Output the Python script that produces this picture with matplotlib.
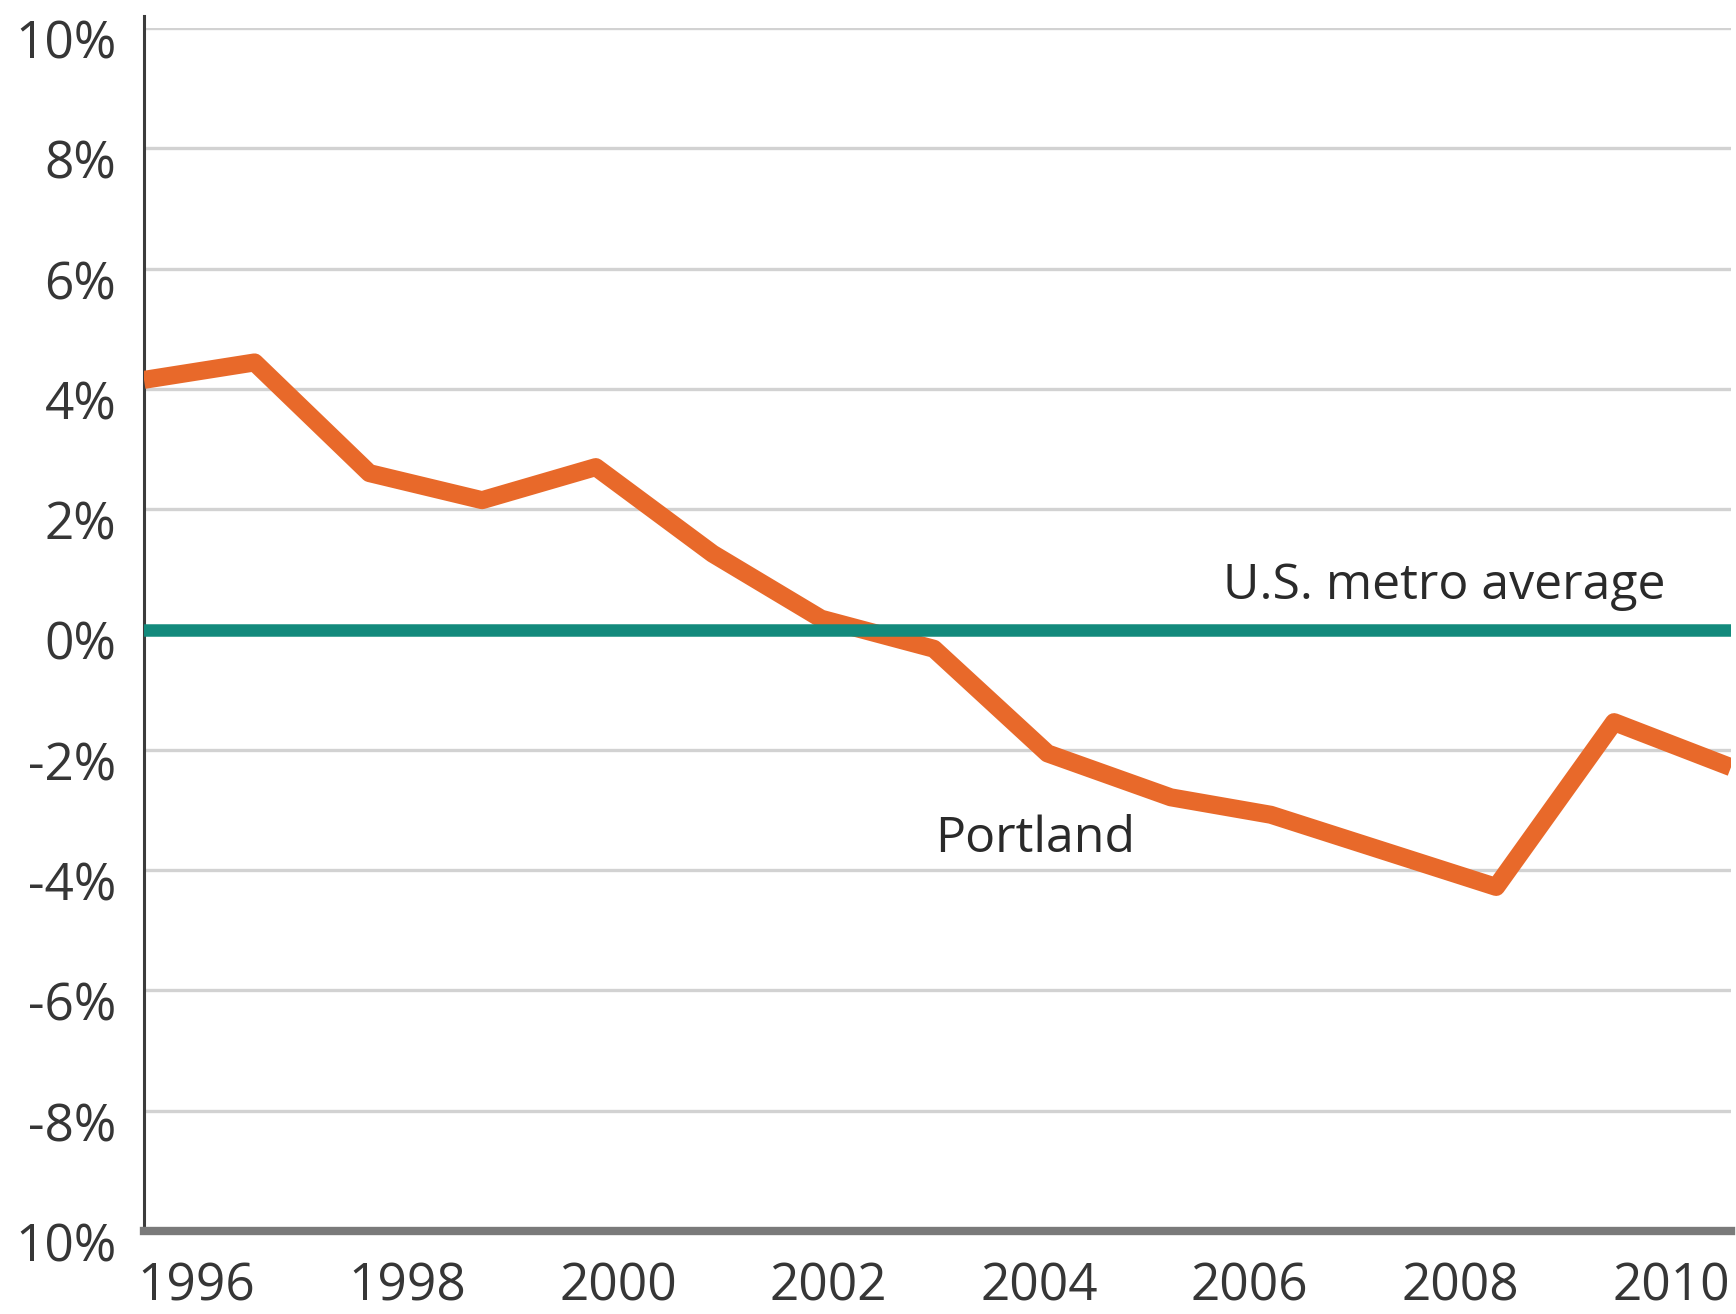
import matplotlib
matplotlib.use('Agg')

import numpy as np
import matplotlib.pyplot as plt
from matplotlib.transforms import ScaledTranslation

plt.rcParams['font.family'] = ['Open Sans', 'DejaVu Sans']

# Portland relative to the US metro average (x in years)
years = [1995.5, 1996.55, 1997.64, 1998.71, 1999.79, 2000.9, 2001.93,
         2003.0, 2004.08, 2005.25, 2006.2, 2008.34, 2009.46, 2010.57]
portland = [4.15, 4.44, 2.60, 2.15, 2.70, 1.26, 0.18,
            -0.32, -2.06, -2.79, -3.08, -4.28, -1.54, -2.29]
metro_avg = 0.0

ytick_vals = [10, 8, 6, 4, 2, 0, -2, -4, -6, -8, -10]
ytick_labels = ['10%', '8%', '6%', '4%', '2%', '0%', '-2%', '-4%', '-6%', '-8%', '10%']
xtick_vals = [1996, 1998, 2000, 2002, 2004, 2006, 2008, 2010]
xtick_labels = [str(y) for y in xtick_vals]

fig = plt.figure(figsize=(17.36, 13.14), dpi=100)
ax = fig.add_axes([144 / 1736, 1 - 1231 / 1314, (1731 - 144) / 1736, (1231 - 28) / 1314])

ax.set_xlim(1995.5, 2010.57)
ax.set_ylim(-10, 10)

# grid
for v in ytick_vals[:-1]:
    ax.axhline(v, color='#d2d2d2', lw=2.4, zorder=1)

ax.plot(years, portland, color='#e8692a', lw=13, solid_joinstyle='round',
        solid_capstyle='butt', zorder=3)
ax.axhline(metro_avg, color='#138a7c', lw=9, zorder=4)

ax.text(2007.85, 0.5, 'U.S. metro average', fontsize=36, color='#2a2a2a',
        ha='center', va='baseline')
ax.text(2003.96, -3.7, 'Portland', fontsize=36, color='#2a2a2a',
        ha='center', va='baseline')

for s in ['top', 'right']:
    ax.spines[s].set_visible(False)
ax.spines['left'].set_color('#3c3c3c')
ax.spines['left'].set_linewidth(2.2)
ax.spines['left'].set_bounds(-10, 10.2)
ax.spines['bottom'].set_color('#7a7a7a')
ax.spines['bottom'].set_linewidth(6)

ax.set_yticks(ytick_vals)
ax.set_yticklabels(ytick_labels)
ax.set_xticks(xtick_vals)
ax.set_xticklabels(xtick_labels)
ax.tick_params(axis='both', length=0, labelsize=37, labelcolor='#363636')
ax.tick_params(axis='y', pad=20)
ax.tick_params(axis='x', pad=22)

shift = ScaledTranslation(0, -0.11, fig.dpi_scale_trans)
for lab in ax.get_yticklabels():
    lab.set_transform(lab.get_transform() + shift)

fig.savefig('out.png', dpi=100)
